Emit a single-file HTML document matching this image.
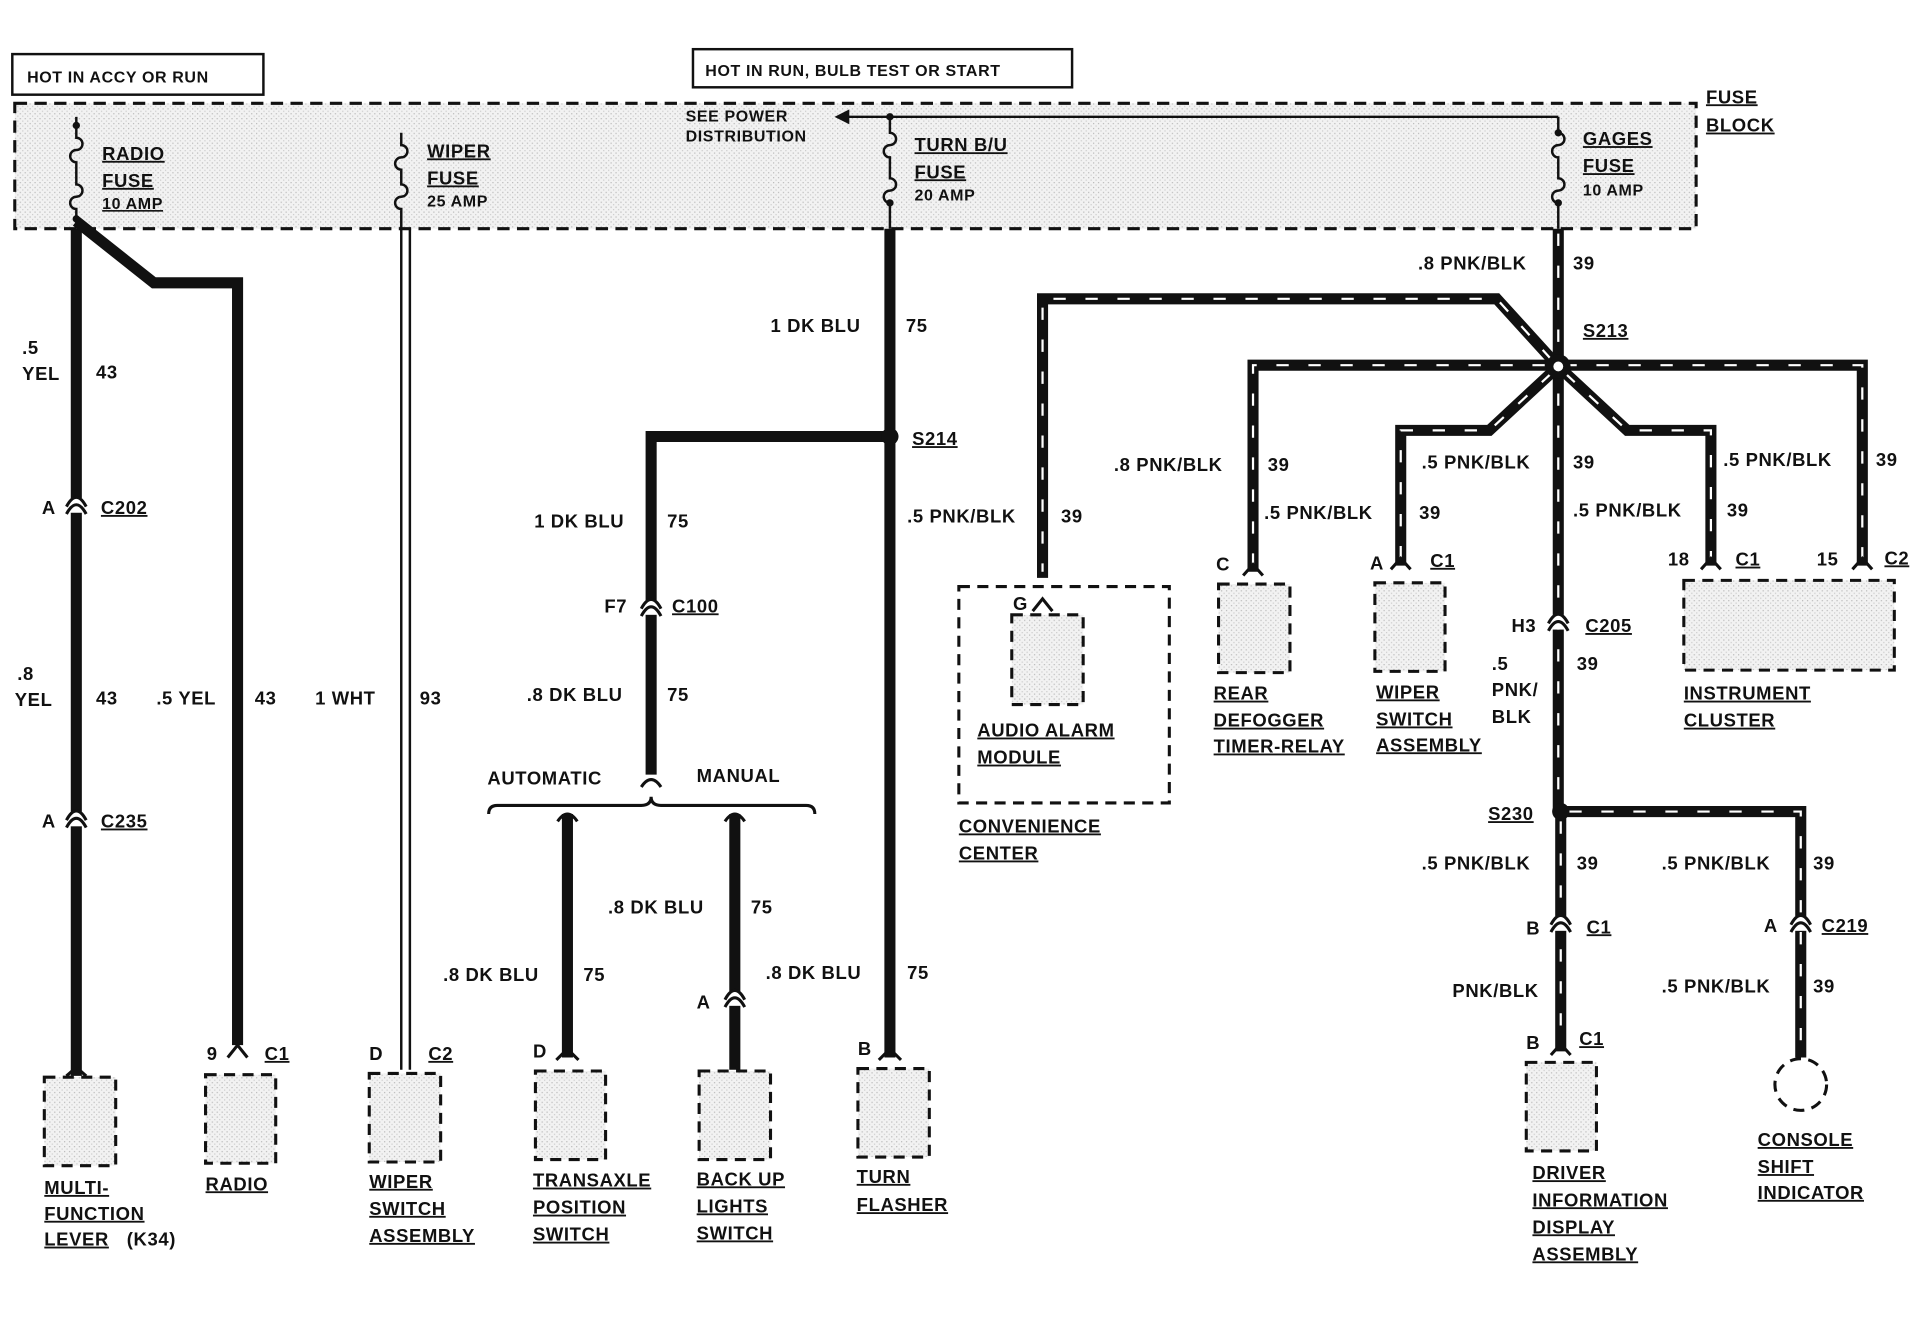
<!DOCTYPE html>
<html><head><meta charset="utf-8"><style>
html,body{margin:0;padding:0;background:#fff}
svg{display:block}
text{font-family:"Liberation Sans",sans-serif;font-weight:bold;font-size:15px;fill:#111;letter-spacing:0.5px}
.u{text-decoration:underline}
.s{font-size:13px}
</style></head><body>
<svg width="1930" height="1328" viewBox="0 0 1568 1080" preserveAspectRatio="none" xmlns="http://www.w3.org/2000/svg">
<defs>
<pattern id="st" width="4" height="4" patternUnits="userSpaceOnUse"><rect width="4" height="4" fill="#f2f2f2"/><rect width="1" height="1" fill="#bbb"/><rect x="2" y="2" width="1" height="1" fill="#ccc"/></pattern>
</defs>
<rect width="1568" height="1080" fill="#fff"/>
<!-- header boxes -->
<rect x="10" y="44" width="204" height="33" fill="#fff" stroke="#111" stroke-width="2"/>
<text x="22" y="67" class="s">HOT IN ACCY OR RUN</text>
<rect x="563" y="40" width="308" height="31" fill="#fff" stroke="#111" stroke-width="2"/>
<text x="573" y="62" class="s">HOT IN RUN, BULB TEST OR START</text>
<!-- fuse block -->
<rect x="12" y="84" width="1366" height="102" fill="url(#st)" stroke="#111" stroke-width="2.5" stroke-dasharray="10 6"/>
<text x="1386" y="84" class="u">FUSE</text><text x="1386" y="107" class="u">BLOCK</text>
<line x1="680" y1="95" x2="1266" y2="95" stroke="#111" stroke-width="2"/>
<polygon points="678,95 690,89 690,101" fill="#111"/>
<text x="557" y="99" class="s">SEE POWER</text><text x="557" y="115" class="s">DISTRIBUTION</text>
<!-- fuse symbols -->
<g fill="none" stroke="#111" stroke-width="2">
<path d="M62 95 V112 a5 5 0 0 1 0 10 a5 5 0 0 0 0 10 V150 a5 5 0 0 1 0 10 a5 5 0 0 0 0 10 V186"/>
<path d="M326 108 V118 a5 5 0 0 1 0 10 a5 5 0 0 0 0 10 V150 a5 5 0 0 1 0 10 a5 5 0 0 0 0 10 V186"/>
<path d="M723 95 V108 a5 5 0 0 1 0 10 a5 5 0 0 0 0 10 V145 a5 5 0 0 1 0 10 a5 5 0 0 0 0 10 V186"/>
<path d="M1266 95 V108 a5 5 0 0 1 0 10 a5 5 0 0 0 0 10 V145 a5 5 0 0 1 0 10 a5 5 0 0 0 0 10 V186"/>
</g>
<circle cx="62" cy="102" r="3" fill="#111"/><circle cx="723" cy="95" r="3" fill="#111"/><circle cx="1266" cy="108" r="3" fill="#111"/><circle cx="62" cy="178" r="3" fill="#111"/><circle cx="723" cy="165" r="3" fill="#111"/><circle cx="1266" cy="165" r="3" fill="#111"/>
<text x="83" y="130" class="u">RADIO</text><text x="83" y="152" class="u">FUSE</text><text x="83" y="170" class="s u">10 AMP</text>
<text x="347" y="128" class="u">WIPER</text><text x="347" y="150" class="u">FUSE</text><text x="347" y="168" class="s">25 AMP</text>
<text x="743" y="123" class="u">TURN B/U</text><text x="743" y="145" class="u">FUSE</text><text x="743" y="163" class="s">20 AMP</text>
<text x="1286" y="118" class="u">GAGES</text><text x="1286" y="140" class="u">FUSE</text><text x="1286" y="159" class="s">10 AMP</text>
<!-- solid wires -->
<g fill="none" stroke="#111" stroke-width="9">
<line x1="62" y1="186" x2="62" y2="875"/>
<polyline points="62,180 125,230 193,230 193,850"/>
<line x1="723" y1="186" x2="723" y2="860"/>
<polyline points="723,355 529,355 529,630"/>
<line x1="461" y1="662" x2="461" y2="860"/>
<line x1="597" y1="662" x2="597" y2="870"/>
</g>
<g stroke="#111" stroke-width="2"><line x1="326" y1="186" x2="326" y2="870"/><line x1="333" y1="186" x2="333" y2="870"/></g>
<path d="M397 662 q0 -7 7 -7 H521 q8 0 8 -7 q0 7 8 7 H655 q7 0 7 7" fill="none" stroke="#111" stroke-width="2.5"/>
<!-- striped wires -->
<g fill="none" stroke="#111" stroke-width="9">
<line x1="1266" y1="186" x2="1266" y2="660"/>
<polyline points="1266,298 1216,243 847,243 847,470"/>
<polyline points="1018,465 1018,297 1513,297 1513,460"/>
<polyline points="1266,298 1210,350 1138,350 1138,460"/>
<polyline points="1266,298 1322,350 1390,350 1390,460"/>
<polyline points="1268,660 1463,660 1463,860"/>
<line x1="1268" y1="660" x2="1268" y2="855"/>
</g>
<g fill="none" stroke="#fff" stroke-width="1.8" stroke-dasharray="10 16">
<line x1="1266" y1="190" x2="1266" y2="655"/>
<polyline points="1260,292 1216,243 847,243 847,465"/>
<polyline points="1018,460 1018,297 1513,297 1513,455"/>
<polyline points="1260,304 1210,350 1138,350 1138,455"/>
<polyline points="1272,304 1322,350 1390,350 1390,455"/>
<polyline points="1275,660 1463,660 1463,850"/>
<line x1="1268" y1="668" x2="1268" y2="850"/>
</g>
<circle cx="723" cy="355" r="7" fill="#111"/>
<circle cx="1266" cy="298" r="10" fill="#111"/><circle cx="1266" cy="298" r="4" fill="#fff"/>
<circle cx="1268" cy="660" r="7" fill="#111"/>
<!-- connectors -->
<g fill="#fff"><rect x="55" y="405" width="15" height="12"/><rect x="55" y="660" width="15" height="12"/><rect x="522" y="488" width="15" height="12"/><rect x="1259" y="500" width="15" height="12"/><rect x="1261" y="745" width="15" height="12"/><rect x="1456" y="745" width="15" height="12"/><rect x="590" y="806" width="15" height="12"/></g>
<g fill="none" stroke="#111" stroke-width="2.5">
<path d="M54 418 Q62 403 70 418 M54 412 Q62 397 70 412"/>
<path d="M54 673 Q62 658 70 673 M54 667 Q62 652 70 667"/>
<path d="M521 501 Q529 486 537 501 M521 495 Q529 480 537 495"/>
<path d="M1258 513 Q1266 498 1274 513 M1258 507 Q1266 492 1274 507"/>
<path d="M1260 758 Q1268 743 1276 758 M1260 752 Q1268 737 1276 752"/>
<path d="M1455 758 Q1463 743 1471 758 M1455 752 Q1463 737 1471 752"/>
<path d="M589 819 Q597 804 605 819 M589 813 Q597 798 605 813"/>
<path d="M185 860 L193 850 L201 860"/><path d="M54 875 L62 868 L70 875"/>
<path d="M452 862 L461 853 L470 862"/><path d="M714 862 L723 853 L732 862"/>
<path d="M839 497 L847 487 L855 497"/><path d="M1010 468 L1018 459 L1026 468"/>
<path d="M1130 463 L1138 454 L1146 463"/><path d="M1382 463 L1390 454 L1398 463"/>
<path d="M1505 463 L1513 454 L1521 463"/><path d="M1260 858 L1268 849 L1276 858"/>
<path d="M521 640 Q529 628 537 640"/><path d="M453 668 Q461 656 469 668"/><path d="M589 668 Q597 656 605 668"/>
</g>
<!-- component boxes -->
<g fill="url(#st)" stroke="#111" stroke-width="2.5" stroke-dasharray="9 6">
<rect x="36" y="876" width="58" height="72"/>
<rect x="167" y="874" width="57" height="72"/>
<rect x="300" y="873" width="58" height="72"/>
<rect x="435" y="871" width="57" height="72"/>
<rect x="568" y="871" width="58" height="72"/>
<rect x="697" y="869" width="58" height="72"/>
<rect x="779" y="477" width="171" height="176" fill="none"/>
<rect x="822" y="500" width="58" height="73"/>
<rect x="990" y="475" width="58" height="72"/>
<rect x="1117" y="474" width="57" height="72"/>
<rect x="1368" y="472" width="171" height="73"/>
<rect x="1240" y="864" width="57" height="72"/>
<circle cx="1463" cy="882" r="21" fill="#fff"/>
</g>
<!-- left labels -->
<text x="18" y="288">.5</text><text x="18" y="309">YEL</text><text x="78" y="308">43</text>
<text x="34" y="418">A</text><text x="82" y="418" class="u">C202</text>
<text x="14" y="553">.8</text><text x="12" y="574">YEL</text><text x="78" y="573">43</text>
<text x="127" y="573">.5 YEL</text><text x="207" y="573">43</text>
<text x="256" y="573">1 WHT</text><text x="341" y="573">93</text>
<text x="34" y="673">A</text><text x="82" y="673" class="u">C235</text>
<text x="168" y="862">9</text><text x="215" y="862" class="u">C1</text>
<text x="300" y="862">D</text><text x="348" y="862" class="u">C2</text>
<text x="626" y="270">1 DK BLU</text><text x="736" y="270">75</text>
<text x="741" y="362" class="u">S214</text>
<text x="434" y="429">1 DK BLU</text><text x="542" y="429">75</text>
<text x="491" y="498">F7</text><text x="546" y="498" class="u">C100</text>
<text x="428" y="570">.8 DK BLU</text><text x="542" y="570">75</text>
<text x="396" y="638">AUTOMATIC</text><text x="566" y="636">MANUAL</text>
<text x="494" y="743">.8 DK BLU</text><text x="610" y="743">75</text>
<text x="360" y="798">.8 DK BLU</text><text x="474" y="798">75</text>
<text x="622" y="796">.8 DK BLU</text><text x="737" y="796">75</text>
<text x="566" y="820">A</text><text x="433" y="860">D</text><text x="697" y="858">B</text>
<text x="36" y="971" class="u">MULTI-</text><text x="36" y="992" class="u">FUNCTION</text><text x="36" y="1013" class="u">LEVER</text><text x="103" y="1013">(K34)</text>
<text x="167" y="968" class="u">RADIO</text>
<text x="300" y="966" class="u">WIPER</text><text x="300" y="988" class="u">SWITCH</text><text x="300" y="1010" class="u">ASSEMBLY</text>
<text x="433" y="965" class="u">TRANSAXLE</text><text x="433" y="987" class="u">POSITION</text><text x="433" y="1009" class="u">SWITCH</text>
<text x="566" y="964" class="u">BACK UP</text><text x="566" y="986" class="u">LIGHTS</text><text x="566" y="1008" class="u">SWITCH</text>
<text x="696" y="962" class="u">TURN</text><text x="696" y="985" class="u">FLASHER</text>
<!-- right labels -->
<text x="1152" y="219">.8 PNK/BLK</text><text x="1278" y="219">39</text>
<text x="1286" y="274" class="u">S213</text>
<text x="737" y="425">.5 PNK/BLK</text><text x="862" y="425">39</text>
<text x="823" y="496">G</text>
<text x="794" y="599" class="u">AUDIO ALARM</text><text x="794" y="621" class="u">MODULE</text>
<text x="779" y="677" class="u">CONVENIENCE</text><text x="779" y="699" class="u">CENTER</text>
<text x="905" y="383">.8 PNK/BLK</text><text x="1030" y="383">39</text>
<text x="1027" y="422">.5 PNK/BLK</text><text x="1153" y="422">39</text>
<text x="988" y="464">C</text>
<text x="986" y="569" class="u">REAR</text><text x="986" y="591" class="u">DEFOGGER</text><text x="986" y="612" class="u">TIMER-RELAY</text>
<text x="1155" y="381">.5 PNK/BLK</text><text x="1278" y="381">39</text>
<text x="1113" y="463">A</text><text x="1162" y="461" class="u">C1</text>
<text x="1118" y="568" class="u">WIPER</text><text x="1118" y="590" class="u">SWITCH</text><text x="1118" y="611" class="u">ASSEMBLY</text>
<text x="1278" y="420">.5 PNK/BLK</text><text x="1403" y="420">39</text>
<text x="1400" y="379">.5 PNK/BLK</text><text x="1524" y="379">39</text>
<text x="1355" y="460">18</text><text x="1410" y="460" class="u">C1</text>
<text x="1476" y="460">15</text><text x="1531" y="459" class="u">C2</text>
<text x="1368" y="569" class="u">INSTRUMENT</text><text x="1368" y="591" class="u">CLUSTER</text>
<text x="1228" y="514">H3</text><text x="1288" y="514" class="u">C205</text>
<text x="1281" y="545">39</text><text x="1212" y="545">.5</text><text x="1212" y="566">PNK/</text><text x="1212" y="588">BLK</text>
<text x="1209" y="667" class="u">S230</text>
<text x="1155" y="707">.5 PNK/BLK</text><text x="1281" y="707">39</text>
<text x="1350" y="707">.5 PNK/BLK</text><text x="1473" y="707">39</text>
<text x="1240" y="760">B</text><text x="1289" y="759" class="u">C1</text>
<text x="1433" y="758">A</text><text x="1480" y="758" class="u">C219</text>
<text x="1180" y="811">PNK/BLK</text>
<text x="1350" y="807">.5 PNK/BLK</text><text x="1473" y="807">39</text>
<text x="1240" y="853">B</text><text x="1283" y="850" class="u">C1</text>
<text x="1245" y="959" class="u">DRIVER</text><text x="1245" y="981" class="u">INFORMATION</text><text x="1245" y="1003" class="u">DISPLAY</text><text x="1245" y="1025" class="u">ASSEMBLY</text>
<text x="1428" y="932" class="u">CONSOLE</text><text x="1428" y="954" class="u">SHIFT</text><text x="1428" y="975" class="u">INDICATOR</text>
</svg>
</body></html>
